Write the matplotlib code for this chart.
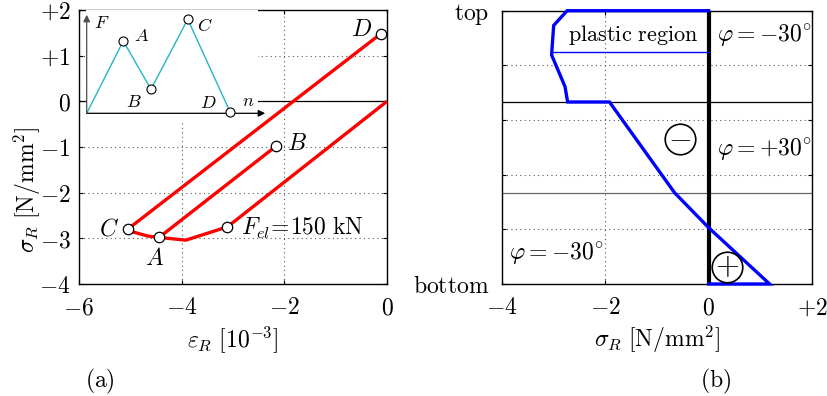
import matplotlib
matplotlib.use("Agg")
import matplotlib.pyplot as plt
import numpy as np

plt.rcParams['mathtext.fontset'] = 'cm'
plt.rcParams['font.family'] = 'serif'
plt.rcParams['font.serif'] = ['DejaVu Serif']

# ---------------- data: panel (a) ----------------
# path C -> D
cd_eps = [-5.04, -0.12]
cd_sig = [-2.79, 1.48]
# path A -> B
ab_eps = [-4.44, -2.16]
ab_sig = [-2.98, -0.98]
# elastic path from origin to F_el point
el_eps = [0.0, -3.11]
el_sig = [0.0, -2.75]
# bottom curve C -> A -> kink -> F_el point
bot_eps = [-5.04, -4.95, -4.66, -4.44, -3.92, -3.11]
bot_sig = [-2.79, -2.86, -2.95, -2.98, -3.04, -2.75]
# labelled points
pt_names = ['A', 'B', 'C', 'D']
pt_eps = [-4.44, -2.16, -5.04, -0.12]
pt_sig = [-2.98, -0.98, -2.79, 1.48]
fel_eps = -3.11
fel_sig = -2.75

# inset load history
ins_n = [0.0, 0.211, 0.371, 0.583, 0.827]
ins_F = [0.0, 0.723, 0.24, 0.94, 0.016]

a_xticks = [-6, -4, -2, 0]
a_xticklabels = [r'$-6$', r'$-4$', r'$-2$', r'$0$']
a_yticks = [-4, -3, -2, -1, 0, 1, 2]
a_yticklabels = [r'$-4$', r'$-3$', r'$-2$', r'$-1$', r'$0$', r'$+1$', r'$+2$']

# ---------------- data: panel (b) ----------------
prof_sig = [0.0, -2.74, -3.0, -3.04, -2.78, -2.73, -1.92, -0.66, 0.0, 1.18, 0.0]
prof_y = [5.0, 5.0, 4.73, 4.19, 3.61, 3.33, 3.33, 1.67, 1.03, 0.0, 0.0]
plastic_sig = [-3.03, 0.0]
plastic_y = [4.25, 4.25]

b_xticks = [-4, -2, 0, 2]
b_xticklabels = [r'$-4$', r'$-2$', r'$0$', r'$+2$']
b_yticks = [0, 1, 2, 3, 4, 5]
b_yticklabels = [r'$\mathrm{bottom}$', '', '', '', '', r'$\mathrm{top}$']

W, H = 827, 396
fig = plt.figure(figsize=(W / 100, H / 100), dpi=100)


def rect(l, r, t, b):
    return [l / W, 1 - b / H, (r - l) / W, (b - t) / H]


FS = 17

# ================= panel (a) =================
ax = fig.add_axes(rect(79, 387, 10, 284))
ax.set_xlim(-6, 0)
ax.set_ylim(-4, 2)
ax.set_xticks(a_xticks)
ax.set_xticklabels(a_xticklabels, fontsize=FS)
ax.set_yticks(a_yticks)
ax.set_yticklabels(a_yticklabels, fontsize=FS)
ax.tick_params(direction='in', length=3, top=True, right=True, width=0.8)
ax.tick_params(axis='x', pad=9)
ax.tick_params(axis='y', pad=6)
ax.grid(True, linestyle=(0, (1, 3)), color='0.35', lw=0.8)
ax.axhline(0, color='black', lw=0.9, zorder=2)
for s in ax.spines.values():
    s.set_linewidth(1.0)

red = '#ff0000'
lw = 2.4
ax.plot(cd_eps, cd_sig, color=red, lw=lw, zorder=3, solid_capstyle='butt')
ax.plot(ab_eps, ab_sig, color=red, lw=lw, zorder=3, solid_capstyle='butt')
ax.plot(el_eps, el_sig, color=red, lw=lw, zorder=3, solid_capstyle='butt')
ax.plot(bot_eps, bot_sig, color=red, lw=lw, zorder=3, solid_joinstyle='round')
ax.plot(pt_eps, pt_sig, 'o', ms=7.5, mfc='white', mec='black', mew=0.9, zorder=5, clip_on=False)
ax.plot([fel_eps], [fel_sig], 'o', ms=7.5, mfc='white', mec='black', mew=0.9, zorder=5)

ax.text(-4.53, -3.2, r'$A$', fontsize=FS, ha='center', va='top')
ax.text(-1.95, -0.93, r'$B$', fontsize=FS, ha='left', va='center')
ax.text(-5.22, -2.79, r'$C$', fontsize=FS, ha='right', va='center')
ax.text(-0.3, 1.58, r'$D$', fontsize=FS, ha='right', va='center')
ax.text(-2.85, -2.78, r'$F_{el}\!=\!150\ \mathrm{kN}$', fontsize=FS, ha='left', va='center')

ax.set_xlabel(r'$\varepsilon_R\ [10^{-3}]$', fontsize=FS, labelpad=3)
fig.text(27 / W, 1 - 190 / H, r'$\sigma_R\ [\mathrm{N/mm}^2]$', fontsize=FS,
         rotation=90, ha='center', va='center')

# inset
ia = fig.add_axes(rect(86, 258, 10, 121), zorder=10)
ia.set_facecolor('white')
ia.set_xlim(-0.004, (258 - 86.7) / 173.3)
ia.set_ylim(-(121 - 113.3) / 100, (113.3 - 10) / 100)
ia.set_xticks([])
ia.set_yticks([])
for s in ia.spines.values():
    s.set_visible(False)
ia.plot(ins_n, ins_F, color='#22b8c2', lw=1.0, zorder=3)
ia.plot(ins_n[1:], ins_F[1:], 'o', ms=6.5, mfc='white', mec='black', mew=0.8, zorder=5, clip_on=False)
ia.annotate('', xy=(1.03, 0), xytext=(0, 0),
            arrowprops=dict(arrowstyle='-|>', color='black', lw=0.9, mutation_scale=10,
                            shrinkA=0, shrinkB=0), annotation_clip=False)
ia.annotate('', xy=(0, 0.985), xytext=(0, 0),
            arrowprops=dict(arrowstyle='-|>', color='0.3', lw=0.9, mutation_scale=10,
                            shrinkA=0, shrinkB=0), annotation_clip=False)
ifs = 13
ia.text(0.04, 0.90, r'$F$', fontsize=ifs, ha='left', va='center')
ia.text(0.275, 0.77, r'$A$', fontsize=ifs, ha='left', va='center')
ia.text(0.27, 0.11, r'$B$', fontsize=ifs, ha='center', va='center')
ia.text(0.635, 0.87, r'$C$', fontsize=ifs, ha='left', va='center')
ia.text(0.70, 0.10, r'$D$', fontsize=ifs, ha='center', va='center')
ia.text(0.93, 0.12, r'$n$', fontsize=ifs, ha='center', va='center')

fig.text(100 / W, 1 - 381 / H, r'$\mathrm{(a)}$', fontsize=FS, ha='center', va='center')

# ================= panel (b) =================
bx = fig.add_axes(rect(502, 812, 10.7, 284))
bx.set_xlim(-4, 2)
bx.set_ylim(0, 5)
bx.set_xticks(b_xticks)
bx.set_xticklabels(b_xticklabels, fontsize=FS)
bx.set_yticks(b_yticks)
bx.set_yticklabels(b_yticklabels, fontsize=FS)
bx.tick_params(direction='in', length=3, top=True, right=True, width=0.8)
bx.tick_params(axis='x', pad=9)
bx.tick_params(axis='y', pad=9)
bx.grid(True, linestyle=(0, (1, 3)), color='0.35', lw=0.8)
for s in bx.spines.values():
    s.set_linewidth(1.0)
bx.axhline(10 / 3, color='black', lw=0.9, zorder=2)
bx.axhline(5 / 3, color='0.4', lw=0.9, zorder=2)
bx.axvline(0, color='black', lw=3.0, zorder=4)
bx.plot(prof_sig, prof_y, color='#0000ff', lw=2.4, zorder=5, clip_on=False, solid_joinstyle='miter')
bx.plot(plastic_sig, plastic_y, color='#0000ff', lw=1.0, zorder=5)

bx.plot([-0.556], [2.66], 'o', ms=22, mfc='none', mec='black', mew=1.2, zorder=6)
bx.text(-0.556, 2.68, r'$-$', fontsize=22, ha='center', va='center', zorder=6)
bx.plot([0.35], [0.32], 'o', ms=22, mfc='none', mec='black', mew=1.2, zorder=6)
bx.text(0.35, 0.34, r'$+$', fontsize=22, ha='center', va='center', zorder=6)

bx.text(-1.46, 4.55, r'$\mathrm{plastic\ region}$', fontsize=16, ha='center', va='center')
bx.text(0.16, 4.55, r'$\varphi = -30^{\circ}$', fontsize=FS, ha='left', va='center')
bx.text(0.16, 2.47, r'$\varphi = +30^{\circ}$', fontsize=FS, ha='left', va='center')
bx.text(-3.86, 0.56, r'$\varphi = -30^{\circ}$', fontsize=FS, ha='left', va='center')

bx.set_xlabel(r'$\sigma_R\ [\mathrm{N/mm}^2]$', fontsize=FS, labelpad=3)

fig.text(716 / W, 1 - 381 / H, r'$\mathrm{(b)}$', fontsize=FS, ha='center', va='center')

fig.savefig('out.png', dpi=100)
